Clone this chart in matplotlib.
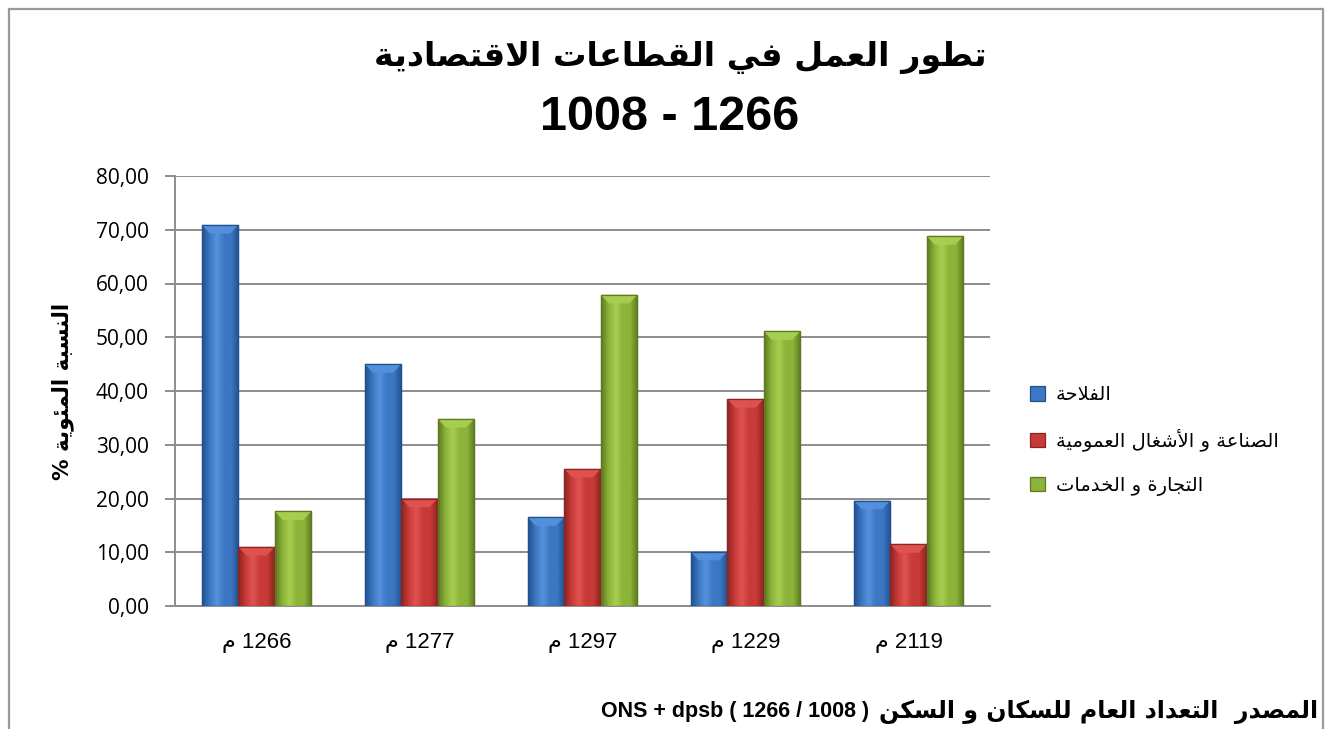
import unicodedata
import numpy as np
import matplotlib
matplotlib.use("Agg")
import matplotlib.pyplot as plt
from matplotlib.colors import LinearSegmentedColormap
from matplotlib.patches import Polygon, Rectangle, Patch
from matplotlib.ticker import FuncFormatter, MultipleLocator

# ---- data -------------------------------------------------------------
years = ["1266", "1277", "1297", "1229", "2119"]
series_names = ["الفلاحة", "الصناعة و الأشغال العمومية", "التجارة و الخدمات"]
agriculture = [70.9, 45.0, 16.5, 10.1, 19.6]
industry = [11.0, 20.0, 25.5, 38.5, 11.5]
services = [17.6, 34.8, 57.9, 51.1, 68.8]

title_ar = "تطور العمل في القطاعات الاقتصادية"
title_years = "1008 - 1266"
ylabel_ar = "النسبة المئوية %"
year_suffix = "م"
source_ar = "المصدر  التعداد العام للسكان و السكن"
source_latin = "ONS + dpsb ( 1266 / 1008 )"

# ---- minimal Arabic shaping (presentation forms, visual order) --------
RIGHT_JOIN = set("اأإآدذرزوؤةى")
LAM_ALEF = {"ا": "ARABIC LIGATURE LAM WITH ALEF",
            "أ": "ARABIC LIGATURE LAM WITH ALEF WITH HAMZA ABOVE",
            "إ": "ARABIC LIGATURE LAM WITH ALEF WITH HAMZA BELOW",
            "آ": "ARABIC LIGATURE LAM WITH ALEF WITH MADDA ABOVE"}


def _is_letter(ch):
    return "\u0620" <= ch <= "\u064A" and ch != "ء"


def _form(ch, form):
    try:
        return unicodedata.lookup(unicodedata.name(ch) + " " + form + " FORM")
    except KeyError:
        return ch


def shape_rtl(text):
    out = []
    prev_joins = False
    i, n = 0, len(text)
    while i < n:
        ch = text[i]
        if not _is_letter(ch):
            out.append(ch)
            prev_joins = False
            i += 1
            continue
        if ch == "ل" and i + 1 < n and text[i + 1] in LAM_ALEF:
            name = LAM_ALEF[text[i + 1]]
            out.append(unicodedata.lookup(name + (" FINAL FORM" if prev_joins else " ISOLATED FORM")))
            prev_joins = False
            i += 2
            continue
        dual = ch not in RIGHT_JOIN
        next_joins = dual and i + 1 < n and _is_letter(text[i + 1])
        if prev_joins and next_joins:
            g = _form(ch, "MEDIAL")
        elif prev_joins:
            g = _form(ch, "FINAL")
        elif next_joins:
            g = _form(ch, "INITIAL")
        else:
            g = _form(ch, "ISOLATED")
        out.append(g)
        prev_joins = next_joins
        i += 1
    return "".join(out)[::-1]


# ---- figure -----------------------------------------------------------
W, H, DPI = 1327, 729, 100
fig = plt.figure(figsize=(W / DPI, H / DPI), dpi=DPI)
fig.patch.set_facecolor("white")

ax = fig.add_axes([175 / W, 1 - 606 / H, 815 / W, 430 / H])

palette = [
    ("#22508e", "#3b77c2", "#5591dc"),   # blue
    ("#8c2421", "#c83a37", "#df5450"),   # red
    ("#5c7a1f", "#8cb33a", "#a8cf4f"),   # green
]
series = [agriculture, industry, services]

x = np.arange(len(years))
bw = 0.224
ax.set_xlim(-0.5, len(years) - 0.5)
ax.set_ylim(0, 80)

for k, (vals, (dark, base, light)) in enumerate(zip(series, palette)):
    cmap = LinearSegmentedColormap.from_list(
        f"bar{k}", [dark, base, light, base, base, dark])
    grad = np.linspace(0, 1, 64).reshape(1, -1)
    bars = ax.bar(x + (k - 1) * bw, vals, bw, color=base, edgecolor=dark,
                  linewidth=0.9, zorder=3)
    for b in bars:
        x0, y0 = b.get_x(), b.get_y()
        x1, y1 = x0 + b.get_width(), y0 + b.get_height()
        im = ax.imshow(grad, cmap=cmap, extent=[x0, x1, y0, y1],
                       aspect="auto", zorder=3.1, interpolation="bicubic")
        im.set_clip_path(b)
        dx, dy = 0.05, 1.6
        bevel = Polygon([(x0, y1), (x1, y1), (x1 - dx, y1 - dy), (x0 + dx, y1 - dy)],
                        closed=True, facecolor=light, edgecolor="none",
                        alpha=0.95, zorder=3.2)
        ax.add_patch(bevel)
        ax.add_patch(Rectangle((x0, y0), x1 - x0, y1 - y0, facecolor="none",
                               edgecolor=dark, linewidth=0.9, zorder=3.3))

ax.set_aspect("auto")
ax.yaxis.set_major_locator(MultipleLocator(10))
ax.yaxis.set_major_formatter(FuncFormatter(lambda v, p: f"{v:.2f}".replace(".", ",")))
ax.grid(axis="y", color="#8c8c8c", linewidth=1.4, zorder=0)
ax.set_axisbelow(True)
for s in ("top", "right"):
    ax.spines[s].set_visible(False)
for s in ("left", "bottom"):
    ax.spines[s].set_color("#8c8c8c")
    ax.spines[s].set_linewidth(1.4)
ax.tick_params(axis="y", direction="out", length=7, width=1.4, color="#8c8c8c",
               labelsize=15, pad=12)
ax.tick_params(axis="x", length=0, pad=19)
for lab in ax.get_yticklabels():
    lab.set_fontfamily(["Open Sans", "DejaVu Sans"])

ax.set_xticks(x)
ax.set_xticklabels([f"{shape_rtl(year_suffix)} {y}" for y in years],
                   fontsize=16, family=["Liberation Sans", "DejaVu Sans"])

ax.set_ylabel(shape_rtl(ylabel_ar), fontsize=15.5, fontweight="bold",
              family=["DejaVu Sans"])
ax.yaxis.set_label_coords((74 - 175) / 815, 0.5)

# legend
handles = [Patch(facecolor=p[1], edgecolor=p[0], linewidth=0.9) for p in palette]
leg = fig.legend(handles, [shape_rtl(s) for s in series_names],
                 loc="upper left", bbox_to_anchor=(1012 / W, 1 - 368 / H),
                 frameon=False, handlelength=0.8, handleheight=0.8,
                 handletextpad=0.55, labelspacing=1.25,
                 prop={"family": ["DejaVu Sans"], "size": 14})

# titles
fig.text(680 / W, 1 - 57 / H, shape_rtl(title_ar), ha="center", va="center",
         fontsize=24, fontweight="bold", family=["DejaVu Sans"])
fig.text(670 / W, 1 - 118 / H, title_years, ha="center", va="center",
         fontsize=35, fontweight="bold", family=["Liberation Sans"])

# source line: Arabic part at the right edge, Latin part just left of it
src_ar = fig.text(1318 / W, 1 - 712 / H, shape_rtl(source_ar),
                  ha="right", va="center", fontsize=17, fontweight="bold",
                  family=["DejaVu Sans"])
fig.canvas.draw()
ar_left = src_ar.get_window_extent().x0
fig.text((ar_left - 10) / W, 1 - 712 / H, source_latin,
         ha="right", va="center", fontsize=15.5, fontweight="bold",
         family=["Liberation Sans"])

# outer frame of the chart area
frame = Rectangle((9 / W, -0.05), (1323 - 9) / W, 1 - 9 / H + 0.05,
                  transform=fig.transFigure, facecolor="none",
                  edgecolor="#9a9a9a", linewidth=1.6)
fig.add_artist(frame)

fig.savefig("out.png", dpi=DPI)
